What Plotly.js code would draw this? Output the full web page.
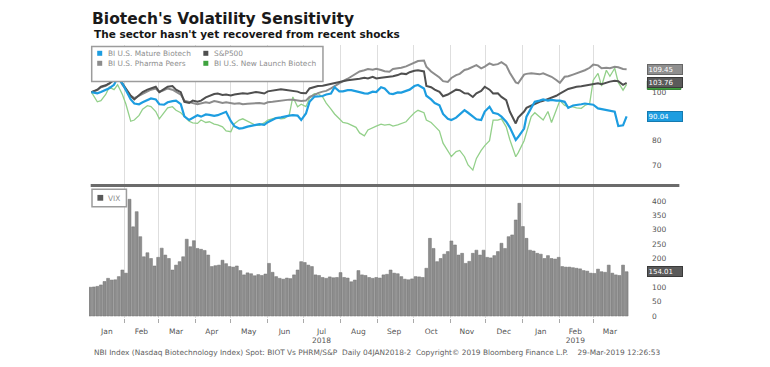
<!DOCTYPE html>
<html><head><meta charset="utf-8">
<script src="https://cdn.plot.ly/plotly-3.0.1.min.js"></script>
<style>html,body{margin:0;padding:0;background:#fff;}#chart{width:770px;height:367px;}</style>
</head><body><div id="chart"></div>
<script>
// ---------- DATA ----------
const lineDates = [
 '2018-01-04','2018-01-09','2018-01-12','2018-01-16','2018-01-19','2018-01-23','2018-01-26','2018-01-30','2018-02-02','2018-02-06',
 '2018-02-09','2018-02-13','2018-02-16','2018-02-20','2018-02-23','2018-02-27','2018-03-02','2018-03-06','2018-03-09','2018-03-13',
 '2018-03-16','2018-03-20','2018-03-23','2018-03-27','2018-03-30','2018-04-03','2018-04-06','2018-04-10','2018-04-13','2018-04-17',
 '2018-04-20','2018-04-24','2018-04-27','2018-05-01','2018-05-04','2018-05-08','2018-05-11','2018-05-15','2018-05-18','2018-05-22',
 '2018-05-25','2018-05-29','2018-06-01','2018-06-05','2018-06-08','2018-06-12','2018-06-15','2018-06-19','2018-06-22','2018-06-26',
 '2018-06-29','2018-07-03','2018-07-06','2018-07-10','2018-07-13','2018-07-17','2018-07-20','2018-07-24','2018-07-27','2018-07-31',
 '2018-08-03','2018-08-07','2018-08-10','2018-08-14','2018-08-17','2018-08-21','2018-08-24','2018-08-28','2018-08-31','2018-09-04',
 '2018-09-07','2018-09-11','2018-09-14','2018-09-18','2018-09-21','2018-09-25','2018-09-28','2018-10-02','2018-10-05','2018-10-10',
 '2018-10-12','2018-10-16','2018-10-19','2018-10-23','2018-10-26','2018-10-30','2018-11-02','2018-11-06','2018-11-09','2018-11-13',
 '2018-11-16','2018-11-20','2018-11-23','2018-11-27','2018-11-30','2018-12-04','2018-12-07','2018-12-11','2018-12-14','2018-12-18',
 '2018-12-21','2018-12-26','2018-12-28','2019-01-02','2019-01-04','2019-01-08','2019-01-11','2019-01-15','2019-01-18','2019-01-22',
 '2019-01-25','2019-01-29','2019-02-01','2019-02-05','2019-02-08','2019-02-12','2019-02-15','2019-02-19','2019-02-22','2019-02-26',
 '2019-03-01','2019-03-05','2019-03-08','2019-03-12','2019-03-15','2019-03-19','2019-03-22','2019-03-26','2019-03-29'];

const matureBiotech = [
 100,99.5,100,101,101.6,103,106,103.5,100.5,97,
 95.3,95,95.8,96.8,97.4,97,95,94.8,95.8,96.3,
 96.5,95,90,88.5,89.5,90.5,89.9,90.8,90.6,90.2,
 90.5,91.2,91.9,88,86,85,85.2,85.8,86.2,86.5,
 86.8,86.5,87.6,88.5,89.3,89.6,90,90.3,90.5,90.3,
 88.5,91.2,96,98.1,98.2,98.4,99,99.4,102,100.3,
 100.3,100.8,100.8,100.5,100,99.5,99.4,100.2,100,102,
 101.5,99.4,99.2,99.9,99.8,100.5,101,102.5,102.9,101.5,
 98.5,97,95.5,94.6,91,89,88.5,89.5,91,92.6,
 91.5,90,88.8,88.5,92,94,91.5,91,89.9,87.8,
 85.5,80.3,81.5,85,89.9,93.5,96,96.5,97,96.5,
 96.8,96.5,96.5,96,93.5,94.5,94.6,95,95.3,95,
 94.8,93.3,93,92.6,92.3,91.9,86,86.3,90.04];

const sp500 = [
 100,101,102.2,102.8,103.6,105,106.5,103.5,101.5,98.5,
 97,98.5,100,101,101.5,102.2,100,101.3,102.2,102.5,
 101,100,96,95.5,96.5,96,96.5,97.8,98.5,99.2,
 99.4,98.8,99,98.6,99,99.2,99.5,99.3,99.6,100,
 99.8,99.4,100.3,100.6,100.9,101.2,101,100.8,100.6,100.2,
 99.6,99.5,101.5,102,102.5,102.6,102.9,103.2,103.6,103.9,
 104.5,104.9,105,105.2,105.5,105.9,105.6,106.3,105.6,105.9,
 106,106.3,106.5,107,107.6,107.4,108.2,108.8,109,108.5,
 102.5,102,101,100.1,98.3,99,100,101,100.8,99.5,
 99.4,98,99.5,100.5,102.2,101,99.4,99.5,98,96.7,
 92,87.1,89.5,92,93.5,94.5,95.2,96,96.4,97.2,
 97.5,98.5,99.4,100.5,101.3,101.8,102.2,102.4,102.7,102.9,
 103.2,103.6,103.2,103.9,104.3,104.7,104.5,103,103.76];

const pharmaPeers = [
 100,100.8,102,102.6,103.5,105,106.5,103,101,98.5,
 97.5,98.5,99.5,100.5,101,101.5,100,100.8,101.5,101,
 100,99,96.5,95.8,95.5,95,95.3,95.8,95.5,96.3,
 96,95.5,95.8,95.5,95.2,95.4,95,95.2,95.3,95.7,
 95.5,95.2,95.8,96,96.2,96.6,96.5,96.9,96.8,96.5,
 96.3,96.5,98,98.8,99.6,100.2,100.5,101.5,102.5,103.5,
 104.5,105.5,106.5,107.6,108.5,109,109.5,109.2,109.6,109.1,
 108.6,108.4,109.5,109.8,110,110.6,111.2,112,112.8,113,
 110.5,108.5,107.5,106,104.5,104.2,105.8,107,107.5,109.1,
 109.5,110.5,111.1,109.8,110.5,111.8,111.2,111.5,112.3,111,
 108,104,103.6,107.2,107.5,107.7,107.5,107.3,107.7,107,
 106.3,105,103.8,106.3,106.5,107.2,107.7,108.3,109,110,
 111.3,111,109.8,110,109.8,110.4,110.2,109.5,109.45];

const newLaunchBiotech = [
 100,96,96.5,99,102,101,103,99,95,88,
 88.5,90.4,93,94.4,94,92,89,91.8,93.5,94,
 92.5,91.5,89.9,88,87.3,87.1,88.5,87.5,87.8,86.8,
 86.5,85.7,84,83.7,87,88.5,89,88,87.5,86.3,
 86.3,87.3,88.5,89.2,89.5,89,89.2,90.6,98,94,
 95,94,97.5,99.4,99.4,98,95.5,93,91,89,
 87.5,87.1,86.5,85.5,83.2,82,84.4,85.5,86,86.8,
 86.4,86.7,86,86.5,87,87.8,89.5,91.5,92.5,91.5,
 88.5,87.5,86,84,79,76,73.5,75.5,76,73.4,
 70,67.9,72.7,76,78,80,88.5,88.5,89,85.7,
 80.5,73.4,75,80,83,89.9,91.5,90,88.5,92,
 87.5,92.6,96.5,94.5,94,93.9,93.5,93.3,94.5,95.3,
 104.9,107.7,102.5,109,106.5,109.8,104,100.8,103.2];

// VIX (rebased), one bar every 3 calendar days from vixStart
const vixStart = '2018-01-03';
const vixStepDays = 3;
const vix = [100,101,103,108,120,131,125,126,137,160,
  149,406,310,363,276,206,220,200,174,204,
  236,212,200,160,177,189,206,267,241,262,
  235,232,228,212,172,175,177,194,182,172,
  170,174,158,143,150,147,140,144,141,146,
  183,152,137,131,128,132,130,143,160,189,
  186,177,172,143,141,134,131,136,133,134,
  151,134,132,119,125,158,143,141,134,131,
  134,132,143,145,160,149,147,137,128,126,
  129,137,136,134,166,270,235,189,200,215,
  224,261,247,212,218,183,190,218,229,212,
  229,204,202,210,224,253,235,276,282,334,
  392,311,270,229,226,218,215,200,210,200,
  198,204,172,170,170,168,166,164,158,156,
  149,148,163,154,152,177,149,143,141,177,
  154.01];

const monthTickDates = ['2018-01-17','2018-02-15','2018-03-16','2018-04-15','2018-05-16','2018-06-15','2018-07-16','2018-08-16','2018-09-15','2018-10-16','2018-11-15','2018-12-16','2019-01-16','2019-02-14','2019-03-15'];
const monthTickText = ['Jan','Feb','Mar','Apr','May','Jun','Jul<br>2018','Aug','Sep','Oct','Nov','Dec','Jan','Feb<br>2019','Mar'];
// 90, 110 and 150 sit behind the value tags in the reference
const topTicks = [70,80,100];
const bottomTicks = [0,50,100,200,250,300,350,400];

const seriesNames = ['BI U.S. Mature Biotech','S&P500','BI U.S. Pharma Peers','BI U.S. New Launch Biotech'];
const vixName = 'VIX';
const titleText = "Biotech's Volatility Sensitivity";
const subtitleText = "The sector hasn't yet recovered from recent shocks";
const footerText = 'NBI Index (Nasdaq Biotechnology Index) Spot: BIOT Vs PHRM/S&P\u00a0\u00a0Daily 04JAN2018-2\u00a0\u00a0Copyright\u00a9 2019 Bloomberg Finance L.P.\u00a0\u00a0\u00a0 29-Mar-2019 12:26:53';

// ---------- BUILD ----------
const vixDates = vix.map((v, i) => {
  const d = new Date(vixStart + 'T00:00:00Z');
  d.setUTCDate(d.getUTCDate() + i * vixStepDays);
  return d.toISOString().slice(0, 10);
});

const C = {blue:'#1d9de0', sp:'#4f4f4f', pharma:'#8c8c8c', greenLine:'#93d08a', greenKey:'#3fa33f', bar:'#8d8d8d'};

// pixel helpers for layout (plot area: x 89.3..628.7, y 45..318)
const L = 89.3, R = 628.7, T = 45, B = 318;
const px = x => (x - L) / (R - L);
const py = y => (B - y) / (B - T);
const split = py(185.5);

const traces = [
  {x: vixDates, y: vix, type:'bar', yaxis:'y', xaxis:'x', marker:{color:C.bar, line:{color:'#707070', width:0.5}}, name:vixName},
  {x: lineDates, y: newLaunchBiotech, type:'scatter', mode:'lines', yaxis:'y2', line:{color:C.greenLine, width:1.3}, name:seriesNames[3]},
  {x: lineDates, y: pharmaPeers, type:'scatter', mode:'lines', yaxis:'y2', line:{color:C.pharma, width:2}, name:seriesNames[2]},
  {x: lineDates, y: sp500, type:'scatter', mode:'lines', yaxis:'y2', line:{color:C.sp, width:2}, name:seriesNames[1]},
  {x: lineDates, y: matureBiotech, type:'scatter', mode:'lines', yaxis:'y2', line:{color:C.blue, width:2.2}, name:seriesNames[0]}
];

const tickFont = {family:'DejaVu Sans', size:7.5, color:'#555'};
const legFont = {family:'DejaVu Sans', size:7.4, color:'#8e8e8e'};

function last(a){ return a[a.length-1]; }
function tag(val, yref, bg, border){
  return {xref:'paper', x:px(647), xanchor:'left', yref:yref, y:val, yanchor:'middle',
    text: val.toFixed(2), showarrow:false, font:{family:'DejaVu Sans', size:7, color:'#fff'},
    bgcolor:bg, bordercolor:border, borderwidth:1, borderpad:0.5, width:33, height:8, align:'left'};
}
const greenLast = last(newLaunchBiotech);

const shapes = [
  {type:'line', xref:'paper', yref:'paper', x0:px(91), x1:px(679), y0:split, y1:split, line:{color:'#6b6b6b', width:3}, layer:'above'},
  {type:'rect', xref:'paper', yref:'paper', x0:px(92), x1:px(323), y0:py(81.5), y1:py(46.5), line:{color:'#9c9c9c', width:1.5}, fillcolor:'#fff', layer:'above'},
  {type:'rect', xref:'paper', yref:'paper', x0:px(97.5), x1:px(102.5), y0:py(55.8), y1:py(50.8), line:{width:0}, fillcolor:C.blue, layer:'above'},
  {type:'rect', xref:'paper', yref:'paper', x0:px(203.5), x1:px(208.5), y0:py(55.8), y1:py(50.8), line:{width:0}, fillcolor:C.sp, layer:'above'},
  {type:'rect', xref:'paper', yref:'paper', x0:px(97.5), x1:px(102.5), y0:py(65.8), y1:py(60.8), line:{width:0}, fillcolor:C.pharma, layer:'above'},
  {type:'rect', xref:'paper', yref:'paper', x0:px(203.5), x1:px(208.5), y0:py(65.8), y1:py(60.8), line:{width:0}, fillcolor:C.greenKey, layer:'above'},
  {type:'rect', xref:'paper', yref:'paper', x0:px(92.3), x1:px(126.7), y0:py(206.7), y1:py(189.3), line:{color:'#9c9c9c', width:1.5}, fillcolor:'#fff', layer:'above'},
  {type:'rect', xref:'paper', yref:'paper', x0:px(97.7), x1:px(103.5), y0:py(200.7), y1:py(194.9), line:{width:0}, fillcolor:'#5a5a5a', layer:'above'},
  // New Launch value tag, mostly hidden behind the S&P500 tag
  {type:'rect', xref:'paper', yref:'y2', x0:px(647), x1:px(680.5), y0:greenLast-2.1, y1:greenLast+1.4, line:{color:'#2e7d2e', width:1}, fillcolor:C.greenKey, layer:'above'}
];

const annotations = [
  {xref:'paper', yref:'paper', x:px(92), y:py(34), xanchor:'left', yanchor:'middle', showarrow:false,
   text:'<b>'+subtitleText+'</b>', font:{family:'DejaVu Sans', size:10.5, color:'#151515'}},
  {xref:'paper', yref:'paper', x:px(106.5), y:py(53.3), xanchor:'left', yanchor:'middle', showarrow:false, text:seriesNames[0], font:legFont},
  {xref:'paper', yref:'paper', x:px(212), y:py(53.3), xanchor:'left', yanchor:'middle', showarrow:false, text:seriesNames[1], font:legFont},
  {xref:'paper', yref:'paper', x:px(106.5), y:py(63.3), xanchor:'left', yanchor:'middle', showarrow:false, text:seriesNames[2], font:legFont},
  {xref:'paper', yref:'paper', x:px(212), y:py(63.3), xanchor:'left', yanchor:'middle', showarrow:false, text:seriesNames[3], font:legFont},
  {xref:'paper', yref:'paper', x:px(106.7), y:py(198), xanchor:'left', yanchor:'middle', showarrow:false, text:vixName, font:legFont},
  {xref:'paper', yref:'paper', x:px(92), y:py(352), xanchor:'left', yanchor:'middle', showarrow:false, text:footerText, font:{family:'DejaVu Sans', size:7.4, color:'#5e5e5e'}},
  tag(last(sp500), 'y2', '#5a5a5a', '#3a3a3a'),
  tag(last(pharmaPeers), 'y2', '#8f8f8f', '#666'),
  tag(last(matureBiotech), 'y2', C.blue, '#157ab0'),
  tag(last(vix), 'y', '#5a5a5a', '#3a3a3a')
];

const layout = {
  width:770, height:367,
  margin:{l:L, r:770-R, t:T, b:367-B, pad:0},
  paper_bgcolor:'#fff', plot_bgcolor:'#fff',
  showlegend:false, hovermode:false, bargap:0.18,
  title:{text:'<b>'+titleText+'</b>', font:{family:'DejaVu Sans', size:15.5, color:'#1a1a1a'},
    xref:'container', x:92/770, xanchor:'left', yref:'container', y:1-18.6/367, yanchor:'middle'},
  xaxis:{type:'date', range:['2018-01-02','2019-03-31'], anchor:'y',
    tickmode:'array', tickvals:monthTickDates, ticktext:monthTickText, ticks:'', showgrid:false,
    tickfont:tickFont, showline:false, zeroline:false, ticklabelstandoff:7,
    minor:{tick0:'2018-01-01', dtick:'M1', showgrid:true, gridcolor:'#dedede', gridwidth:1, ticks:'outside', ticklen:4, tickcolor:'#aaa'}},
  yaxis:{domain:[0, split], range:[-6.96, 453.9], side:'right', anchor:'x', tickmode:'array', tickvals:bottomTicks,
    ticks:'', showgrid:false, zeroline:false, showline:false, tickfont:tickFont, ticklabelstandoff:22},
  yaxis2:{domain:[split, 1], range:[61.56, 119.38], side:'right', anchor:'x', tickmode:'array', tickvals:topTicks,
    ticks:'', showgrid:false, zeroline:false, showline:false, tickfont:tickFont, ticklabelstandoff:22},
  shapes:shapes, annotations:annotations
};

Plotly.newPlot('chart', traces, layout, {staticPlot:true, displayModeBar:false});
</script>
</body></html>
